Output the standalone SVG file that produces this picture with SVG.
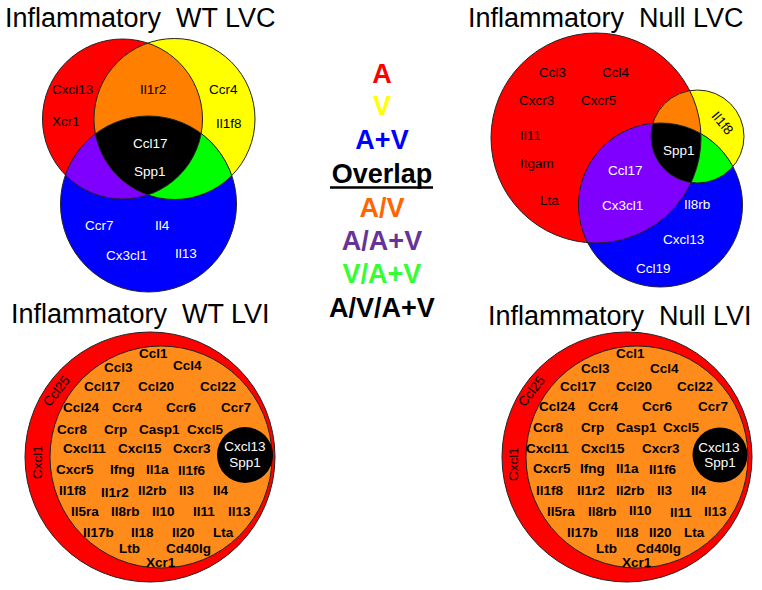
<svg xmlns="http://www.w3.org/2000/svg" width="762" height="590" viewBox="0 0 762 590">
<style>
text{font-family:"Liberation Sans",Arial,Helvetica,sans-serif;fill:#000}
.title{font-size:27px;white-space:pre}
.lb{font-size:13.5px}
.lv{font-size:13.5px;font-weight:bold}
.w{fill:#fff}
.lg{font-size:27px;font-weight:bold;text-anchor:middle}
.ol{fill:none;stroke:#222;stroke-width:1}
</style>
<defs>
<clipPath id="wR"><circle cx="122.5" cy="119" r="80"/></clipPath>
<clipPath id="wY"><circle cx="174.5" cy="119" r="80.5"/></clipPath>
<clipPath id="nR"><circle cx="596" cy="138" r="105"/></clipPath>
<clipPath id="nY"><circle cx="697.5" cy="136.5" r="46.5"/></clipPath>
</defs>
<rect width="762" height="590" fill="#fff"/>

<g id="title-wt-lvc"><text class="title" x="5" y="27">Inflammatory  WT LVC</text></g>
<g id="title-null-lvc"><text class="title" x="468" y="27">Inflammatory  Null LVC</text></g>
<g id="title-wt-lvi"><text class="title" x="11" y="323">Inflammatory  WT LVI</text></g>
<g id="title-null-lvi"><text class="title" x="488" y="325">Inflammatory  Null LVI</text></g>

<g id="wt-lvc">
<circle cx="122.5" cy="119" r="80" fill="#ff0000"/>
<circle cx="174.5" cy="119" r="80.5" fill="#ffff00"/>
<circle cx="148.5" cy="204" r="88" fill="#0000ff"/>
<g clip-path="url(#wR)"><circle cx="174.5" cy="119" r="80.5" fill="#ff8000"/></g>
<g clip-path="url(#wR)"><circle cx="148.5" cy="204" r="88" fill="#8000ff"/></g>
<g clip-path="url(#wY)"><circle cx="148.5" cy="204" r="88" fill="#00ff00"/></g>
<g clip-path="url(#wR)"><g clip-path="url(#wY)"><circle cx="148.5" cy="204" r="88" fill="#000"/></g></g>
<circle class="ol" cx="122.5" cy="119" r="80"/>
<circle class="ol" cx="174.5" cy="119" r="80.5"/>
<circle class="ol" cx="148.5" cy="204" r="88"/>
<text class="lb" x="52" y="94">Cxcl13</text>
<text class="lb" x="52" y="126">Xcr1</text>
<text class="lb" x="140" y="94">Il1r2</text>
<text class="lb" x="209" y="94">Ccr4</text>
<text class="lb" x="216" y="128">Il1f8</text>
<text class="lb w" x="133" y="148">Ccl17</text>
<text class="lb w" x="134" y="176">Spp1</text>
<text class="lb w" x="85" y="230">Ccr7</text>
<text class="lb w" x="155" y="230">Il4</text>
<text class="lb w" x="106" y="260">Cx3cl1</text>
<text class="lb w" x="175" y="258">Il13</text>
</g>

<g id="null-lvc">
<circle cx="596" cy="138" r="105" fill="#ff0000"/>
<circle cx="697.5" cy="136.5" r="46.5" fill="#ffff00"/>
<circle cx="660.5" cy="205" r="82" fill="#0000ff"/>
<g clip-path="url(#nR)"><circle cx="697.5" cy="136.5" r="46.5" fill="#ff8000"/></g>
<g clip-path="url(#nR)"><circle cx="660.5" cy="205" r="82" fill="#8000ff"/></g>
<g clip-path="url(#nY)"><circle cx="660.5" cy="205" r="82" fill="#00ff00"/></g>
<g clip-path="url(#nR)"><g clip-path="url(#nY)"><circle cx="660.5" cy="205" r="82" fill="#000"/></g></g>
<circle class="ol" cx="596" cy="138" r="105"/>
<circle class="ol" cx="697.5" cy="136.5" r="46.5"/>
<circle class="ol" cx="660.5" cy="205" r="82"/>
<text class="lb" x="539" y="77">Ccl3</text>
<text class="lb" x="602" y="77">Ccl4</text>
<text class="lb" x="519" y="105">Cxcr3</text>
<text class="lb" x="581" y="105">Cxcr5</text>
<text class="lb" x="520" y="140">Il11</text>
<text class="lb" x="520" y="168">Itgam</text>
<text class="lb" x="540" y="205">Lta</text>
<text class="lb" text-anchor="middle" transform="translate(719,126) rotate(50)">Il1f8</text>
<text class="lb w" x="663" y="155">Spp1</text>
<text class="lb w" x="608" y="175">Ccl17</text>
<text class="lb w" x="602" y="210">Cx3cl1</text>
<text class="lb w" x="684" y="209">Il8rb</text>
<text class="lb w" x="663" y="244">Cxcl13</text>
<text class="lb w" x="636" y="273">Ccl19</text>
</g>

<g id="legend">
<text class="lg" x="382" y="83" style="fill:#ff0000">A</text>
<text class="lg" x="382" y="115" style="fill:#ffff00">V</text>
<text class="lg" x="382" y="149" style="fill:#0000ff">A+V</text>
<text class="lg" x="382" y="183">Overlap</text>
<line x1="330" y1="187.5" x2="433" y2="187.5" stroke="#000" stroke-width="2.5"/>
<text class="lg" x="382" y="217" style="fill:#ff6600">A/V</text>
<text class="lg" x="382" y="250" style="fill:#663399">A/A+V</text>
<text class="lg" x="382" y="283" style="fill:#33ff33">V/A+V</text>
<text class="lg" x="382" y="317">A/V/A+V</text>
</g>

<g id="wt-lvi">
<circle cx="150" cy="457" r="125" fill="#ff0000" stroke="#222" stroke-width="1"/>
<circle cx="161" cy="457" r="111" fill="#ff8c1a" stroke="#222" stroke-width="1"/>
<circle cx="245" cy="455" r="28" fill="#000"/>
<text class="lb" text-anchor="middle" transform="translate(60,394) rotate(-52)">Ccl25</text>
<text class="lb" text-anchor="middle" transform="translate(42,462) rotate(-90)">Cxcl1</text>
<text class="lb w" text-anchor="middle" x="245" y="451">Cxcl13</text>
<text class="lb w" text-anchor="middle" x="245" y="467">Spp1</text>
<text class="lv" x="139" y="358">Ccl1</text>
<text class="lv" x="104" y="372">Ccl3</text>
<text class="lv" x="173" y="370">Ccl4</text>
<text class="lv" x="84" y="391">Ccl17</text>
<text class="lv" x="138" y="391">Ccl20</text>
<text class="lv" x="200" y="391">Ccl22</text>
<text class="lv" x="63" y="412">Ccl24</text>
<text class="lv" x="112" y="412">Ccr4</text>
<text class="lv" x="166" y="412">Ccr6</text>
<text class="lv" x="221" y="412">Ccr7</text>
<text class="lv" x="57" y="434">Ccr8</text>
<text class="lv" x="104" y="434">Crp</text>
<text class="lv" x="139" y="434">Casp1</text>
<text class="lv" x="187" y="434">Cxcl5</text>
<text class="lv" x="63" y="453">Cxcl11</text>
<text class="lv" x="118" y="453">Cxcl15</text>
<text class="lv" x="173" y="453">Cxcr3</text>
<text class="lv" x="56" y="474">Cxcr5</text>
<text class="lv" x="110" y="474">Ifng</text>
<text class="lv" x="146" y="474">Il1a</text>
<text class="lv" x="178" y="475">Il1f6</text>
<text class="lv" x="59" y="495">Il1f8</text>
<text class="lv" x="101" y="497">Il1r2</text>
<text class="lv" x="138" y="495">Il2rb</text>
<text class="lv" x="179" y="495">Il3</text>
<text class="lv" x="213" y="495">Il4</text>
<text class="lv" x="71" y="516">Il5ra</text>
<text class="lv" x="111" y="516">Il8rb</text>
<text class="lv" x="152" y="516">Il10</text>
<text class="lv" x="193" y="516">Il11</text>
<text class="lv" x="228" y="516">Il13</text>
<text class="lv" x="83" y="537">Il17b</text>
<text class="lv" x="131" y="537">Il18</text>
<text class="lv" x="172" y="537">Il20</text>
<text class="lv" x="213" y="537">Lta</text>
<text class="lv" x="119" y="553">Ltb</text>
<text class="lv" x="166" y="553">Cd40lg</text>
<text class="lv" x="146" y="567">Xcr1</text>
</g>

<g id="null-lvi">
<circle cx="627" cy="457" r="125" fill="#ff0000" stroke="#222" stroke-width="1"/>
<circle cx="637" cy="457" r="111" fill="#ff8c1a" stroke="#222" stroke-width="1"/>
<circle cx="720" cy="455" r="27.5" fill="#000"/>
<text class="lb" text-anchor="middle" transform="translate(535,394) rotate(-52)">Ccl25</text>
<text class="lb" text-anchor="middle" transform="translate(518,464) rotate(-90)">Cxcl1</text>
<text class="lb w" text-anchor="middle" x="719" y="452">Cxcl13</text>
<text class="lb w" text-anchor="middle" x="720" y="467">Spp1</text>
<text class="lv" x="616" y="358">Ccl1</text>
<text class="lv" x="581" y="373">Ccl3</text>
<text class="lv" x="650" y="373">Ccl4</text>
<text class="lv" x="560" y="391">Ccl17</text>
<text class="lv" x="616" y="391">Ccl20</text>
<text class="lv" x="677" y="391">Ccl22</text>
<text class="lv" x="539" y="411">Ccl24</text>
<text class="lv" x="588" y="411">Ccr4</text>
<text class="lv" x="642" y="411">Ccr6</text>
<text class="lv" x="698" y="411">Ccr7</text>
<text class="lv" x="533" y="432">Ccr8</text>
<text class="lv" x="581" y="432">Crp</text>
<text class="lv" x="616" y="432">Casp1</text>
<text class="lv" x="663" y="432">Cxcl5</text>
<text class="lv" x="526" y="453">Cxcl11</text>
<text class="lv" x="581" y="453">Cxcl15</text>
<text class="lv" x="642" y="453">Cxcr3</text>
<text class="lv" x="533" y="473">Cxcr5</text>
<text class="lv" x="580" y="473">Ifng</text>
<text class="lv" x="616" y="473">Il1a</text>
<text class="lv" x="649" y="474">Il1f6</text>
<text class="lv" x="536" y="495">Il1f8</text>
<text class="lv" x="577" y="495">Il1r2</text>
<text class="lv" x="616" y="495">Il2rb</text>
<text class="lv" x="657" y="495">Il3</text>
<text class="lv" x="691" y="495">Il4</text>
<text class="lv" x="547" y="516">Il5ra</text>
<text class="lv" x="588" y="516">Il8rb</text>
<text class="lv" x="629" y="515">Il10</text>
<text class="lv" x="670" y="517">Il11</text>
<text class="lv" x="704" y="516">Il13</text>
<text class="lv" x="567" y="537">Il17b</text>
<text class="lv" x="616" y="537">Il18</text>
<text class="lv" x="649" y="537">Il20</text>
<text class="lv" x="684" y="537">Lta</text>
<text class="lv" x="596" y="553">Ltb</text>
<text class="lv" x="636" y="553">Cd40lg</text>
<text class="lv" x="622" y="567">Xcr1</text>
</g>

<g id="connectors"/>
</svg>
